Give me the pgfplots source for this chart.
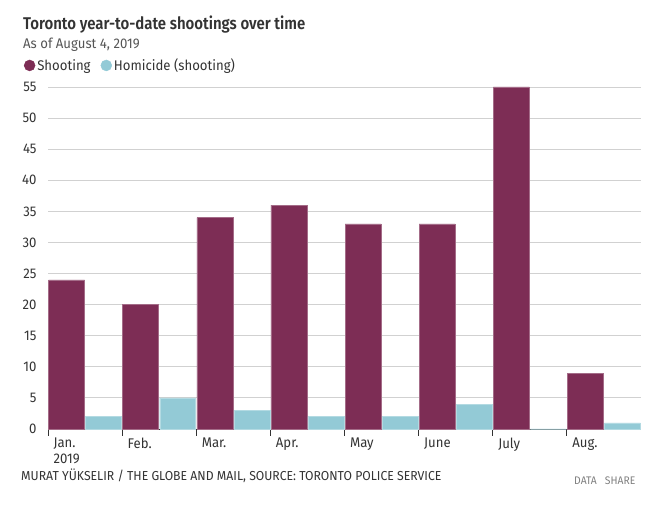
\documentclass[border=0pt]{standalone}
\usepackage{pgfplots}
\pgfplotsset{compat=1.18}
\usepackage{fontspec}
\setmainfont{Fira Sans}[FakeStretch=0.94]
\newfontfamily\titlefont{Fira Sans}[FakeStretch=0.88,UprightFont=*-SemiBold]
\definecolor{shootcol}{HTML}{7D2D55}
\definecolor{homcol}{HTML}{93CAD6}
\definecolor{txt}{HTML}{333333}
\definecolor{sub}{HTML}{555555}
\pgfplotstableread{
x y
0.25 24
1.25 20
2.25 34
3.25 36
4.25 33
5.25 33
6.25 55
7.25 9
}\shoot
\pgfplotstableread{
x y
0.75 2
1.75 5
2.75 3
3.75 2
4.75 2
5.75 4
6.75 0
7.75 1
}\homi
\begin{document}
\begin{tikzpicture}[x=1pt,y=1pt]
\path[use as bounding box] (0,0) rectangle (672,505);
\node[anchor=base west, text=txt, font=\titlefont\fontsize{17}{19}\selectfont, inner sep=0] at (23,475) {Toronto year-to-date shootings over time};
\node[anchor=base west, text=sub, font=\fontsize{14}{15}\selectfont, inner sep=0] at (23,456) {As of August 4, 2019};
\node[anchor=base west, text=txt, font=\fontsize{13}{14}\selectfont, inner sep=0] at (21,24) {MURAT YÜKSELIR / THE GLOBE AND MAIL, SOURCE: TORONTO POLICE SERVICE};
\node[anchor=base west, text=gray, font=\fontsize{11}{12}\selectfont, inner sep=0] at (574,20) {DATA\hspace{8pt}SHARE};
\begin{axis}[
  at={(48pt,76pt)}, anchor=south west,
  scale only axis, width=593pt, height=342pt,
  xmin=0, xmax=8, ymin=0, ymax=55,
  axis x line*=bottom, axis y line*=left,
  x axis line style={-, draw=black!80, line width=0.8pt},
  y axis line style={draw=none},
  ytick={0,5,...,55},
  ytick style={draw=none},
  yticklabel style={text=txt, font=\fontsize{14}{15}\selectfont, xshift=-1pt},
  /pgf/number format/assume math mode=true,
  xtick={0,1,...,7},
  xticklabels={{Jan.\\2019},Feb.,Mar.,Apr.,May,June,July,Aug.},
  xticklabel style={anchor=north west, align=left, xshift=2pt, yshift=2pt, text=txt, font=\fontsize{14}{16}\selectfont},
  xtick pos=bottom, tick align=outside, major tick length=7pt,
  xtick style={draw=black!80, line width=0.8pt},
  ymajorgrids, grid style={black!18, line width=0.9pt},
  legend columns=2,
  legend style={draw=none, fill=none, at={(-0.046,1.063)}, anchor=west,
    font=\fontsize{14}{15}\selectfont, text=txt,
    /tikz/every even column/.append style={column sep=8pt}},
  legend cell align=left,
  clip=false,
]
\addplot[ybar, bar width=0.485, bar shift=0pt, fill=shootcol, draw=shootcol!70!white, line width=0.4pt,
  legend image code/.code={\fill[shootcol] (0pt,0pt) circle (5.5pt);}] table[x=x,y=y] {\shoot};
\addlegendentry{Shooting}
\addplot[ybar, bar width=0.485, bar shift=0pt, fill=homcol, draw=homcol!70!white, line width=0.4pt,
  legend image code/.code={\fill[homcol] (0pt,0pt) circle (5.5pt);}] table[x=x,y=y] {\homi};
\addlegendentry{Homicide (shooting)}
\end{axis}
\end{tikzpicture}
\end{document}
